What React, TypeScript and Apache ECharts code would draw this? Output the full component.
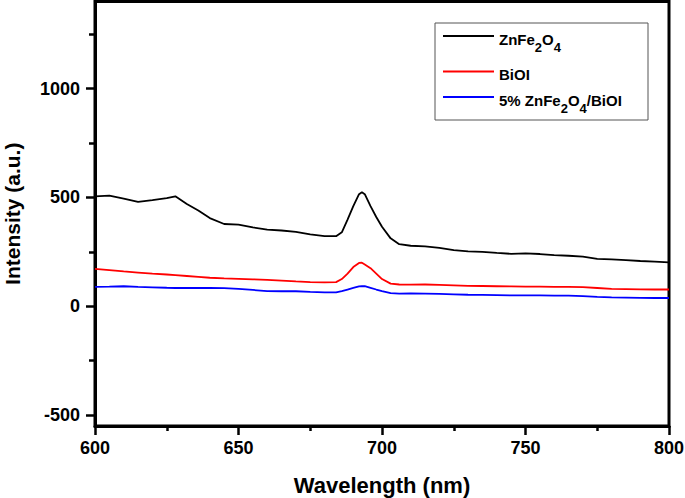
import React, { useEffect, useRef } from "react";
import * as echarts from "echarts";

const wavelengths = [600, 605, 610, 615, 620, 625, 628, 632, 636, 640, 645, 650, 655, 660, 665, 670, 675, 680, 684, 686, 688, 690, 692, 693, 694, 696, 698, 700, 703, 706, 710, 715, 720, 725, 730, 735, 740, 745, 750, 755, 760, 765, 770, 775, 780, 785, 790, 795, 800];

const znfe2o4 = [505, 508, 495, 480, 488, 497, 505, 470, 440, 405, 378, 375, 362, 352, 348, 342, 330, 322, 322, 340, 398, 460, 515, 524, 515, 460, 410, 365, 312, 285, 278, 275, 268, 258, 252, 250, 245, 241, 243, 240, 235, 232, 228, 218, 215, 212, 208, 205, 202];

const bioi = [172, 166, 160, 155, 150, 146, 143, 139, 135, 131, 128, 126, 124, 121, 118, 114, 111, 110, 111, 125, 150, 180, 199, 200, 192, 175, 150, 125, 104, 100, 99, 100, 98, 96, 94, 93, 92, 91, 90, 90, 89, 89, 88, 84, 80, 79, 78, 77, 77];

const composite = [89, 90, 92, 89, 87, 85, 84, 84, 84, 84, 83, 80, 75, 70, 69, 69, 66, 64, 64, 70, 77, 84, 91, 93, 92, 85, 77, 70, 60, 58, 59, 58, 57, 55, 53, 52, 51, 50, 50, 50, 49, 49, 47, 43, 41, 40, 39, 38, 38];

const seriesNames = ["ZnFe2O4", "BiOI", "5% ZnFe2O4/BiOI"];
const legendLabels = ["ZnFe{s|2}O{s|4}", "BiOI", "5% ZnFe{s|2}O{s|4}/BiOI"];
const seriesColors = ["#000000", "#ff0000", "#0000ff"];
const yMajorTicks = [-500, 0, 500, 1000];
const yMinorTicks = [-250, 250, 750, 1250];

const FONT = "'Liberation Sans', Arial, sans-serif";

export default function App() {
  const ref = useRef<HTMLDivElement>(null);
  useEffect(() => {
    if (!ref.current) return;
    const chart = echarts.init(ref.current, null, { renderer: "svg" });
    const allValues = [znfe2o4, bioi, composite];
    const legendRows = [31.5, 67, 92.5];
    const rich = {
      n: { fontSize: 15, fontWeight: "bold", fontFamily: FONT, lineHeight: 18, verticalAlign: "top", fill: "#000" },
      s: { fontSize: 13, fontWeight: "bold", fontFamily: FONT, lineHeight: 14, padding: [9, 0, 0, 0], verticalAlign: "top", fill: "#000" },
    };
    const graphicEls: any[] = [
      {
        type: "rect",
        shape: { x: 435, y: 23, width: 213, height: 97 },
        style: { fill: "#fff", stroke: "#555", lineWidth: 1 },
        z: 10,
      },
    ];
    legendRows.forEach((y, i) => {
      graphicEls.push({
        type: "line",
        shape: { x1: 443, y1: y + 4.5, x2: 494, y2: y + 4.5 },
        style: { stroke: seriesColors[i], lineWidth: 2 },
        z: 11,
      });
      graphicEls.push({
        type: "text",
        x: 499,
        y: y,
        style: {
          text: legendLabels[i].split(/(\{s\|\d\})/).map((p) => (p.startsWith("{") ? p : p ? "{n|" + p + "}" : "")).join(""),
          rich,
          verticalAlign: "top",
          align: "left",
        },
        z: 11,
      });
    });

    const fmt = (v: number) => String(v);

    chart.setOption({
      animation: false,
      textStyle: { fontFamily: FONT },
      grid: {
        left: 95,
        right: 16,
        top: 1.5,
        bottom: 72,
        show: true,
        borderColor: "#000",
        borderWidth: 3,
        backgroundColor: "transparent",
        containLabel: false,
        outerBoundsMode: "none",
      },
      xAxis: {
        type: "value",
        min: 600,
        max: 800,
        interval: 50,
        name: "Wavelength (nm)",
        nameLocation: "middle",
        nameGap: 48,
        nameTextStyle: { fontSize: 22, fontWeight: "bold", color: "#000", fontFamily: FONT },
        axisLine: { show: true, onZero: false, lineStyle: { color: "#000", width: 3 } },
        axisTick: { show: true, length: 9, lineStyle: { color: "#000", width: 2.5 } },
        minorTick: { show: true, splitNumber: 2, length: 5, lineStyle: { color: "#000", width: 2.5 } },
        axisLabel: { fontSize: 18, fontWeight: "bold", color: "#000", margin: 13, fontFamily: FONT, formatter: fmt },
        splitLine: { show: false },
        minorSplitLine: { show: false },
      },
      yAxis: [
        {
          type: "value",
          min: -550,
          max: 1400,
          name: "Intensity (a.u.)",
          nameLocation: "middle",
          nameGap: 72,
          nameTextStyle: { fontSize: 21, fontWeight: "bold", color: "#000", fontFamily: FONT },
          axisLine: { show: true, onZero: false, lineStyle: { color: "#000", width: 3 } },
          axisTick: { show: true, length: 9, customValues: yMajorTicks, lineStyle: { color: "#000", width: 2.5 } },
          axisLabel: { fontSize: 18, fontWeight: "bold", color: "#000", margin: 15, customValues: yMajorTicks, fontFamily: FONT, formatter: fmt },
          splitLine: { show: false },
        },
        {
          type: "value",
          min: -550,
          max: 1400,
          position: "left",
          axisLine: { show: false, onZero: false },
          axisTick: { show: true, length: 6, customValues: yMinorTicks, lineStyle: { color: "#000", width: 2.5 } },
          axisLabel: { show: false },
          splitLine: { show: false },
        },
      ],
      series: seriesNames.map((name, i) => ({
        name,
        type: "line",
        showSymbol: false,
        data: wavelengths.map((w, j) => [w, allValues[i][j]]),
        lineStyle: { color: seriesColors[i], width: 1.8 },
        itemStyle: { color: seriesColors[i] },
      })),
      graphic: graphicEls,
    });
    return () => chart.dispose();
  }, []);
  return <div ref={ref} style={{ width: 685, height: 498, position: "absolute", left: 0, top: 0 }} />;
}
